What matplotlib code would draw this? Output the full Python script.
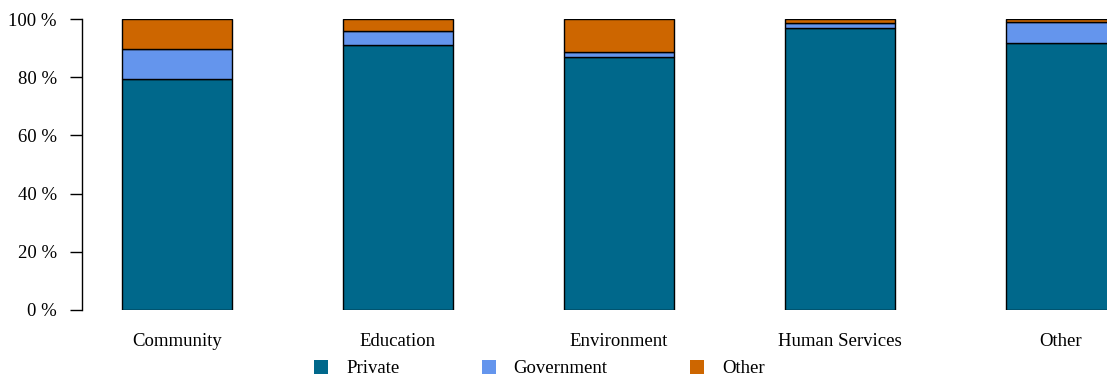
import matplotlib
matplotlib.use("Agg")
import matplotlib.pyplot as plt
from matplotlib.patches import Patch
import numpy as np

categories = ["Community", "Education", "Environment", "Human Services", "Other"]
private = [79.4, 91.1, 86.8, 96.9, 91.8]
government = [10.3, 4.8, 1.7, 1.8, 7.1]
other = [10.3, 4.1, 11.5, 1.3, 1.1]
series_names = ["Private", "Government", "Other"]
colors = ["#00688B", "#6495ED", "#CD6600"]
yticks = [0, 20, 40, 60, 80, 100]

plt.rcParams["font.family"] = ["Liberation Serif", "DejaVu Serif"]
FS = 13.5

W, H = 1107, 375
fig = plt.figure(figsize=(W / 100, H / 100), dpi=100)
ax = fig.add_axes([82 / W, (H - 310) / H, 1 - 82 / W, (310 - 19) / H])

x = np.arange(len(categories))
bottom = np.zeros(len(categories))
for vals, col in zip([private, government, other], colors):
    ax.bar(x, vals, width=0.5, bottom=bottom, color=col, edgecolor="black", linewidth=1.0)
    bottom += np.array(vals)

ax.set_xlim(-(177 - 82) / 221, (1107 - 177) / 221)
ax.set_ylim(0, 100)
for s in ["top", "right", "bottom"]:
    ax.spines[s].set_visible(False)
ax.spines["left"].set_linewidth(1.0)
ax.set_yticks(yticks)
ax.set_yticklabels([f"{v} %" for v in yticks], fontsize=FS)
ax.tick_params(axis="y", length=9, width=1.0, pad=9)
ax.set_xticks(x)
ax.set_xticklabels(categories, fontsize=FS)
ax.tick_params(axis="x", length=0, pad=16.5)

handles = [Patch(facecolor=c, edgecolor="none") for c in colors]
fig.legend(handles, series_names, loc="center", bbox_to_anchor=(539.5 / W, (H - 368.5) / H),
           ncol=3, frameon=False, fontsize=FS, handlelength=0.75, handleheight=0.75,
           handletextpad=0.95, columnspacing=4.4)

fig.savefig("out.png", dpi=100)
